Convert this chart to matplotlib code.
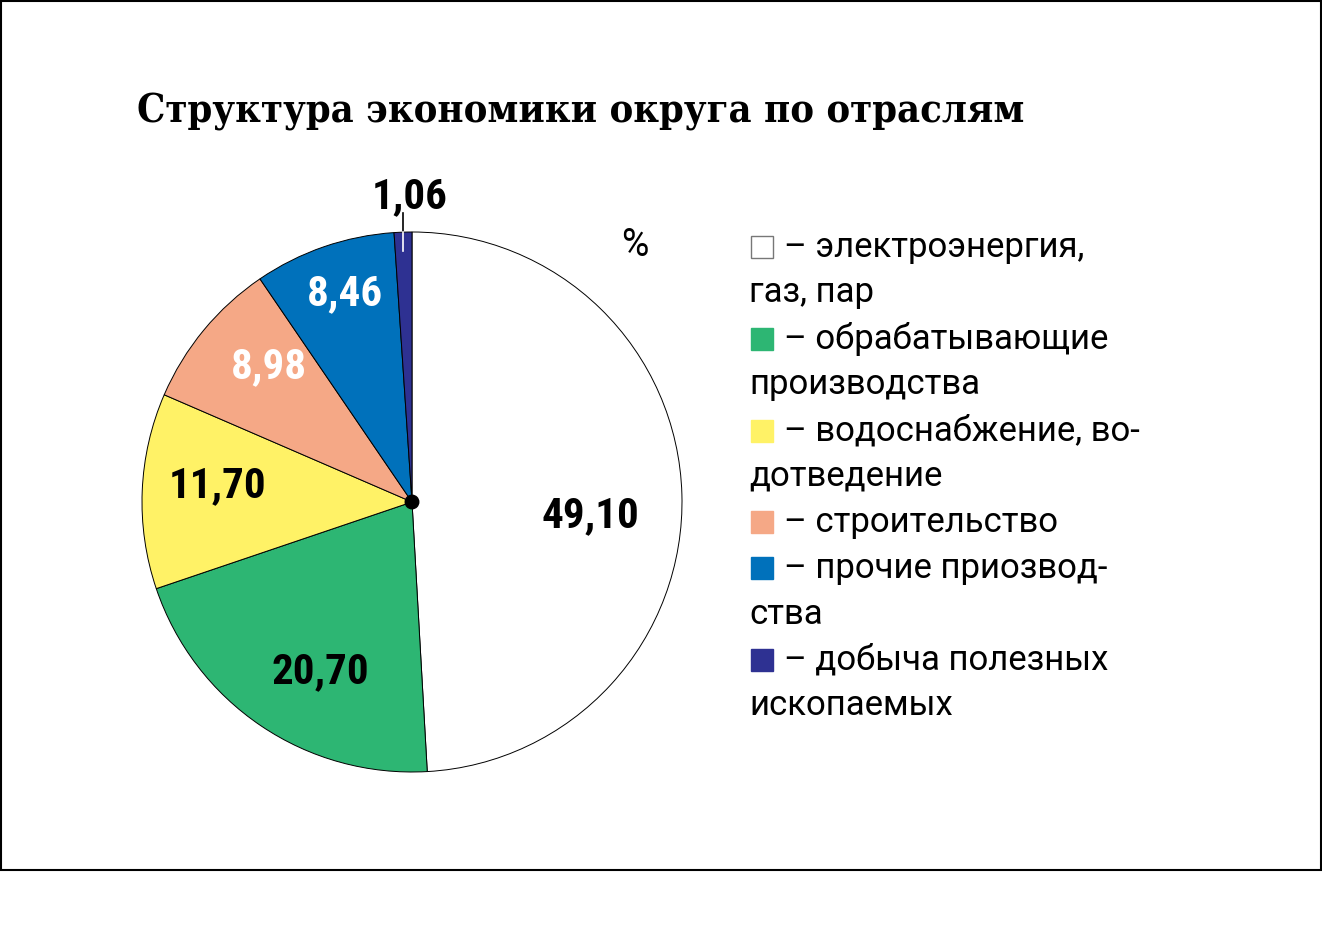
import matplotlib.pyplot as plt
from matplotlib.patches import Rectangle, Circle

# shares by industry, %
values = [49.10, 20.70, 11.70, 8.98, 8.46, 1.06]
value_labels = ["49,10", "20,70", "11,70", "8,98", "8,46", "1,06"]
colors = ["#ffffff", "#2db673", "#fff266", "#f5a886", "#0071bb", "#2e3192"]
label_colors = ["black", "black", "black", "white", "white", "black"]
# label positions in pie units (radius = 1)
label_pos = [(0.66, -0.05), (-0.34, -0.63), (-0.72, 0.06),
             (-0.53, 0.50), (-0.25, 0.77), (-0.01, 1.13)]

legend_items = [
    ["– электроэнергия,", "газ, пар"],
    ["– обрабатывающие", "производства"],
    ["– водоснабжение, во-", "дотведение"],
    ["– строительство"],
    ["– прочие приозвод-", "ства"],
    ["– добыча полезных", "ископаемых"],
]
title = "Структура экономики округа по отраслям"

W, H = 1322, 940
fig = plt.figure(figsize=(W / 100, H / 100), dpi=100)

# overlay in pixel coordinates
bg = fig.add_axes([0, 0, 1, 1])
bg.set_xlim(0, W)
bg.set_ylim(H, 0)
bg.axis("off")
bg.add_patch(Rectangle((1, 1), W - 2, 869, fill=False, edgecolor="black", lw=1.5))

bg.text(137, 112, title, fontsize=28.5, fontweight="heavy",
        family=["DejaVu Serif"], stretch="condensed", va="center", ha="left")
bg.text(621, 246, "%", fontsize=27, family=["Roboto", "DejaVu Sans"],
        va="center", ha="left")

# legend
legend_font = ["Roboto", "DejaVu Sans"]
y = 247
step = 45.9
for item, color in zip(legend_items, colors):
    ec = "#777777" if color == "#ffffff" else color
    bg.add_patch(Rectangle((751, y - 11), 22, 22, facecolor=color, edgecolor=ec, lw=1))
    bg.text(784, y, item[0], fontsize=25, family=legend_font, va="center", ha="left")
    y += step
    for line in item[1:]:
        bg.text(749, y, line, fontsize=25, family=legend_font, va="center", ha="left")
        y += step

# pie
cx, cy, r = 412, 502, 270
ax = fig.add_axes([(cx - r) / W, (H - cy - r) / H, 2 * r / W, 2 * r / H])
ax.pie(values, colors=colors, startangle=90, counterclock=False,
       wedgeprops=dict(edgecolor="black", linewidth=0.7))
ax.set_xlim(-1, 1)
ax.set_ylim(-1, 1)
ax.axis("off")
ax.add_patch(Circle((0, 0), 0.025, color="black", zorder=5))

# leader for the small slice
ax.plot([-0.033, -0.033], [1.07, 1.0], color="black", lw=1.2, clip_on=False)
ax.plot([-0.033, -0.033], [1.0, 0.93], color="white", lw=1.2, clip_on=False)

for lab, (lx, ly), tc in zip(value_labels, label_pos, label_colors):
    ax.text(lx, ly, lab, fontsize=31, fontweight="heavy", color=tc,
            family=["Roboto Condensed", "Roboto", "DejaVu Sans"],
            ha="center", va="center")

fig.savefig("out.png", dpi=100)
